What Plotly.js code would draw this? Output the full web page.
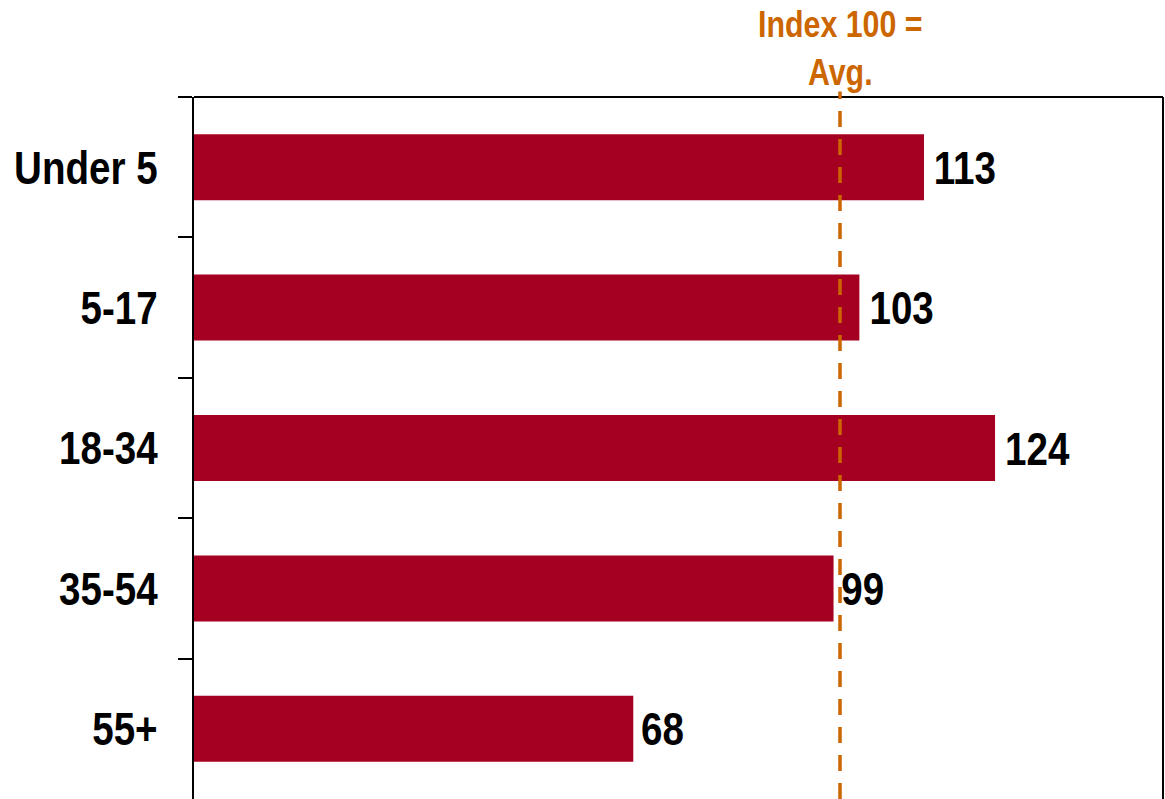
<!DOCTYPE html>
<html>
<head>
<meta charset="utf-8">
<script src="https://cdn.plot.ly/plotly-3.0.1.min.js"></script>
<style>html,body{margin:0;padding:0;background:#fff;}#chart{width:1165px;height:799px;}</style>
</head>
<body>
<div id="chart"></div>
<script>
const categories = ["Under 5", "5-17", "18-34", "35-54", "55+"];
const indexValues = [113, 103, 124, 99, 68];
const avgIndex = 100;
const avgLabel = "Index 100 =<br>Avg.";

const FONT = '"Liberation Sans", Arial, sans-serif';
const NARROW = 0.82; // emulate a narrow (condensed) face

const trace = {
  type: 'bar',
  orientation: 'h',
  y: categories,
  x: indexValues,
  width: 0.47,
  marker: {color: '#A50021'},
  text: indexValues.map(v => String(v)),
  texttemplate: '%{text}',
  textposition: 'outside',
  cliponaxis: false,
  textfont: {family: FONT, size: 47, color: '#000', weight: 'bold'},
  hoverinfo: 'skip'
};

const layout = {
  width: 1165, height: 799,
  margin: {l: 194, r: 2, t: 97, b: 0},
  paper_bgcolor: '#fff', plot_bgcolor: '#fff',
  showlegend: false,
  xaxis: {range: [0, 150], showgrid: false, zeroline: false, showline: false,
          showticklabels: false, ticks: ''},
  yaxis: {autorange: 'reversed', type: 'category', showgrid: false, zeroline: false,
          showline: true, linecolor: '#000', linewidth: 2,
          ticks: 'outside', tickson: 'boundaries', ticklen: 14, tickwidth: 2, tickcolor: '#000',
          ticklabelstandoff: 25,
          tickfont: {family: FONT, size: 47, color: '#000', weight: 'bold'}},
  shapes: [
    {type: 'line', xref: 'paper', yref: 'paper', x0: 0, x1: 1, y0: 1, y1: 1,
     line: {color: '#000', width: 2}},
    {type: 'line', xref: 'paper', yref: 'paper', x0: 1, x1: 1, y0: 0, y1: 1,
     line: {color: '#000', width: 2}},
    {type: 'line', xref: 'x', yref: 'paper', x0: avgIndex, x1: avgIndex, y0: 0, y1: 1.008,
     line: {color: '#CC6600', width: 3.5, dash: '16px,12px'}}
  ],
  annotations: [
    {xref: 'x', yref: 'paper', x: avgIndex, y: 1.0, yanchor: 'bottom', xanchor: 'center',
     yshift: 2,
     text: avgLabel, showarrow: false, align: 'center',
     font: {family: FONT, size: 37, color: '#CC6600', weight: 'bold'}}
  ]
};

function condense(el) {
  try {
    const w = el.getComputedTextLength();
    if (w > 0) {
      el.setAttribute('textLength', (w * NARROW).toFixed(2));
      el.setAttribute('lengthAdjust', 'spacingAndGlyphs');
    }
  } catch (e) {}
}

Plotly.newPlot('chart', [trace], layout, {displayModeBar: false, staticPlot: true}).then(gd => {
  gd.querySelectorAll('.ytick text, text.bartext').forEach(condense);
  gd.querySelectorAll('.annotation-text').forEach(t => {
    const lines = t.querySelectorAll('tspan.line');
    if (lines.length) lines.forEach(condense); else condense(t);
  });
});
</script>
</body>
</html>
